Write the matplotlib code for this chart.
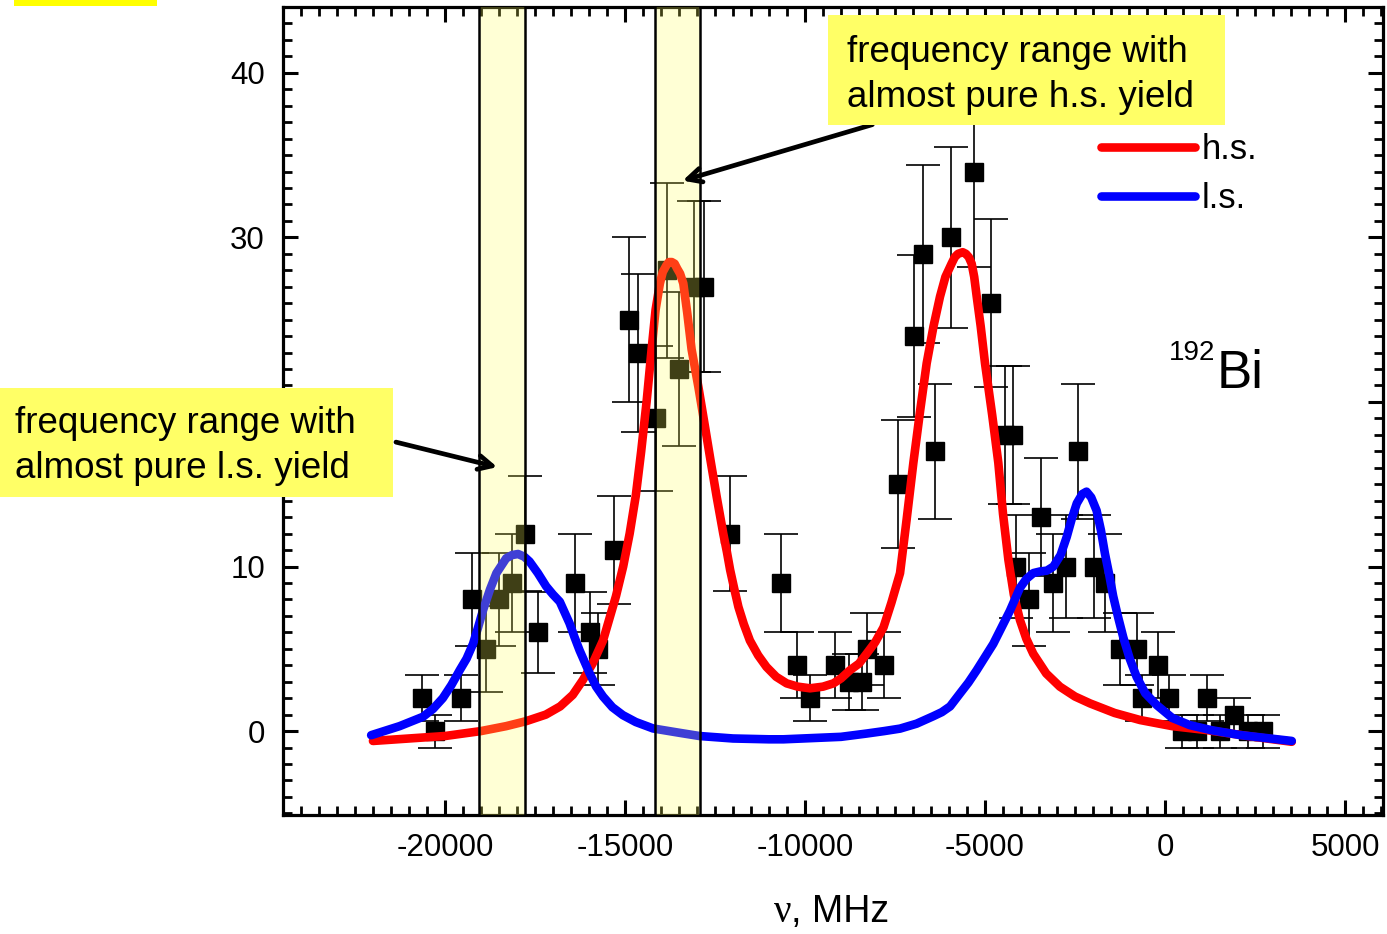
import matplotlib
matplotlib.use("Agg")
import matplotlib.pyplot as plt
from matplotlib.patches import Rectangle
from matplotlib.ticker import MultipleLocator, FuncFormatter

plt.rcParams["font.family"] = ["Liberation Sans", "DejaVu Sans"]
plt.rcParams["axes.unicode_minus"] = False

# measured spectrum (counts vs frequency)
freq = [-20630, -20290, -19565, -19250, -18853, -18500, -18147, -17770, -17408,
        -16389, -15972, -15750, -15314, -14880, -14630, -14139, -13825, -13500,
        -13075, -12806, -12092, -10675, -10231, -9861, -9175, -8769, -8425,
        -8286, -7797, -7417, -6972, -6731, -6389, -5953, -5297, -4842, -4444,
        -4231, -4139, -3778, -3436, -3102, -2750, -2425, -1964, -1667, -1250,
        -786, -647, -186, 108, 464, 880, 1158, 1528, 1925, 2314, 2731]
counts = [2, 0, 2, 8, 5, 8, 9, 12, 6,
          9, 6, 5, 11, 25, 23, 19, 28, 22,
          27, 27, 12, 9, 4, 2, 4, 3, 3,
          5, 4, 15, 24, 29, 17, 30, 34, 26, 18,
          18, 10, 8, 13, 9, 10, 17, 10, 9, 5,
          5, 2, 4, 2, 0, 0, 2, 0, 1, 0, 0]
errors = [1.4, 1.0, 1.4, 2.8, 2.6, 2.8, 3.0, 3.5, 2.45,
          3.0, 2.45, 2.2, 3.3, 5.0, 4.8, 4.4, 5.3, 4.7,
          5.2, 5.2, 3.5, 3.0, 2.0, 1.4, 2.0, 1.7, 1.7,
          2.2, 2.0, 3.9, 4.9, 5.4, 4.1, 5.5, 5.8, 5.1, 4.2,
          4.2, 3.15, 2.8, 3.6, 3.0, 3.15, 4.1, 3.15, 3.0, 2.2,
          2.2, 1.4, 2.0, 1.4, 1.0, 1.0, 1.4, 1.0, 1.0, 1.0, 1.0]

# fitted h.s. curve
hs_x = [-22000, -21000, -20000, -19000, -18300, -17750, -17200, -16800, -16450,
        -16170, -15900, -15610, -15250, -15050, -14870, -14700, -14550, -14400,
        -14260, -14150, -14030, -13950, -13850, -13780, -13700, -13620, -13550,
        -13470, -13380, -13270, -13150, -12960, -12770, -12620, -12450, -12270,
        -12170, -12080, -11970, -11850, -11700, -11530, -11300, -11070, -10800,
        -10510, -10200, -9860, -9500, -9210, -9000, -8750, -8500, -8290, -8050,
        -7820, -7600, -7360, -7180, -6990, -6800, -6620, -6430, -6250, -6100,
        -5930, -5840, -5750, -5620, -5530, -5450, -5370, -5300, -5230, -5120,
        -5000, -4800, -4630, -4500, -4350, -4200, -4030, -3850, -3660, -3300,
        -2920, -2500, -2080, -1400, -690, 200, 1160, 2300, 3520]
hs_y = [-0.6, -0.45, -0.3, 0.0, 0.3, 0.6, 1.0, 1.5, 2.2,
        3.1, 4.1, 5.5, 8.2, 10.0, 12.0, 14.3, 17.0, 20.0,
        23.2, 25.6, 27.2, 27.9, 28.3, 28.5, 28.5, 28.4, 28.1,
        27.8, 27.2, 25.4, 23.2, 20.9, 18.4, 16.4, 14.2, 12.0,
        10.9, 9.8, 8.7, 7.55, 6.5, 5.5, 4.6, 3.9, 3.3,
        2.9, 2.7, 2.6, 2.7, 2.9, 3.2, 3.7, 4.1, 4.7, 5.4,
        6.3, 7.8, 9.6, 12.8, 16.3, 19.5, 22.35, 24.6, 26.4, 27.6,
        28.4, 28.8, 29.0, 29.1, 29.0, 28.8, 28.4, 27.6, 26.4, 24.6,
        22.35, 19.2, 16.3, 13.2, 10.4, 8.3, 6.75, 5.6, 4.7, 3.5,
        2.7, 2.1, 1.68, 1.1, 0.67, 0.3, 0.06, -0.3, -0.65]

# fitted l.s. curve
ls_x = [-22050, -21260, -20610, -20330, -20060, -19820, -19590, -19400, -19220,
        -19080, -18940, -18750, -18570, -18300, -18130, -17970, -17800, -17650,
        -17420, -17190, -17000, -16810, -16540, -16400, -16260, -16120, -15980,
        -15800, -15610, -15350, -15060, -14700, -14220, -13500, -12930, -12000,
        -11000, -10600, -9000, -8290, -7800, -7360, -6900, -6440, -6200, -5970,
        -5690, -5460, -5230, -5000, -4770, -4540, -4310, -4030, -3850, -3660,
        -3470, -3280, -3100, -2900, -2730, -2590, -2450, -2300, -2180, -2050,
        -1900, -1780, -1670, -1550, -1440, -1300, -1160, -980, -790, -550,
        -230, 200, 690, 1300, 2080, 3520]
ls_y = [-0.25, 0.3, 0.87, 1.35, 2.0, 2.8, 3.7, 4.4, 5.3,
        6.3, 7.36, 8.6, 9.6, 10.5, 10.7, 10.76, 10.6, 10.3,
        9.6, 8.8, 8.3, 7.86, 6.55, 5.7, 4.9, 4.2, 3.5,
        2.7, 2.1, 1.45, 0.97, 0.55, 0.16, -0.1, -0.3, -0.45,
        -0.5, -0.5, -0.35, -0.15, 0.0, 0.15, 0.45, 0.9, 1.15, 1.5,
        2.3, 2.95, 3.7, 4.5, 5.3, 6.3, 7.3, 8.7, 9.25, 9.6,
        9.7, 9.75, 10.0, 10.7, 11.8, 12.9, 13.84, 14.4, 14.55, 14.2,
        13.4, 12.2, 10.8, 9.5, 8.2, 6.9, 5.7, 4.4, 3.3, 2.3,
        1.58, 0.8, 0.36, 0.05, -0.24, -0.6]

# frequency windows
ls_window = (-19060, -17780)
hs_window = (-14170, -12920)

fig = plt.figure(figsize=(13.87, 9.34), dpi=100)
ax = fig.add_axes([0.204, 0.1274, 0.793, 0.8651])

ax.errorbar(freq, counts, yerr=errors, fmt="s", color="black", ms=12.5,
            ecolor="black", elinewidth=1.2, capsize=12, capthick=1.2, zorder=3)
ax.plot(hs_x, hs_y, color="#FF0000", lw=6.2, solid_capstyle="round",
        solid_joinstyle="round", zorder=4, label="h.s.")
ax.plot(ls_x, ls_y, color="#0000FF", lw=6.2, solid_capstyle="round",
        solid_joinstyle="round", zorder=4, label="l.s.")

for lo, hi in (ls_window, hs_window):
    ax.axvspan(lo, hi, facecolor="#FFFF58", alpha=0.25, lw=0, zorder=5)
    ax.axvline(lo, color="black", lw=1.8, zorder=6)
    ax.axvline(hi, color="black", lw=1.8, zorder=6)

ax.set_xlim(-24500, 6050)
ax.set_ylim(-5.1, 44)
ax.xaxis.set_major_locator(MultipleLocator(5000))
ax.xaxis.set_minor_locator(MultipleLocator(500))
ax.yaxis.set_major_locator(MultipleLocator(10))
ax.yaxis.set_minor_locator(MultipleLocator(1))
ax.xaxis.set_major_formatter(FuncFormatter(lambda v, p: f"{int(round(v))}"))
# the 20 label sits under the l.s. note box
ax.yaxis.set_major_formatter(
    FuncFormatter(lambda v, p: "" if round(v) == 20 else f"{int(round(v))}"))
ax.tick_params(which="both", direction="in", top=True, right=True,
               labelsize=22.5, pad=13)
ax.tick_params(which="major", length=11, width=2.2)
ax.tick_params(which="minor", length=6.5, width=2.0)
for s in ax.spines.values():
    s.set_linewidth(2.3)

leg = ax.legend(loc="upper left", bbox_to_anchor=(0.744, 0.844), frameon=False,
                fontsize=25, handlelength=2.7, handletextpad=0.2,
                labelspacing=0.46, borderpad=0, borderaxespad=0)
leg.set_zorder(8)

ax.text(0.848, 0.563, "192", transform=ax.transAxes, fontsize=20,
        ha="right", va="baseline", zorder=8)
ax.text(0.849, 0.528, "Bi", transform=ax.transAxes, fontsize=38,
        ha="left", va="baseline", zorder=8)

# arrows to the windows
arrow = dict(arrowstyle="->,head_length=1.0,head_width=0.5", lw=3.4,
             color="black")
ax.annotate("", xy=(-13472, 33.4), xytext=(-8056, 36.9), arrowprops=arrow,
            zorder=9)
ax.annotate("", xy=(-18472, 16.0), xytext=(-21436, 17.6), arrowprops=arrow,
            zorder=9)

W, H = 1387, 934


def box(x0, y0, x1, y1, color):
    fig.add_artist(Rectangle((x0 / W, 1 - y1 / H), (x1 - x0) / W, (y1 - y0) / H,
                             transform=fig.transFigure, facecolor=color,
                             edgecolor="none", zorder=10))


box(828, 15, 1225, 125, "#FFFF66")
box(0, 388, 393, 497, "#FFFF66")
box(14, 0, 157, 6, "#FFFF00")

fig.text(847 / W, 1 - 75 / H, "frequency range with\nalmost pure h.s. yield",
         fontsize=26.5, ha="left", va="center", linespacing=1.36, zorder=11)
fig.text(15 / W, 1 - 446 / H, "frequency range with\nalmost pure l.s. yield",
         fontsize=26.5, ha="left", va="center", linespacing=1.36, zorder=11)

# axis title: serif nu, sans unit
fig.text(791 / W, 1 - 922 / H, "ν", fontsize=28, family="Liberation Serif",
         ha="right", va="baseline")
fig.text(791 / W, 1 - 922 / H, ", MHz", fontsize=27, ha="left",
         va="baseline")

fig.savefig("out.png", dpi=100)
